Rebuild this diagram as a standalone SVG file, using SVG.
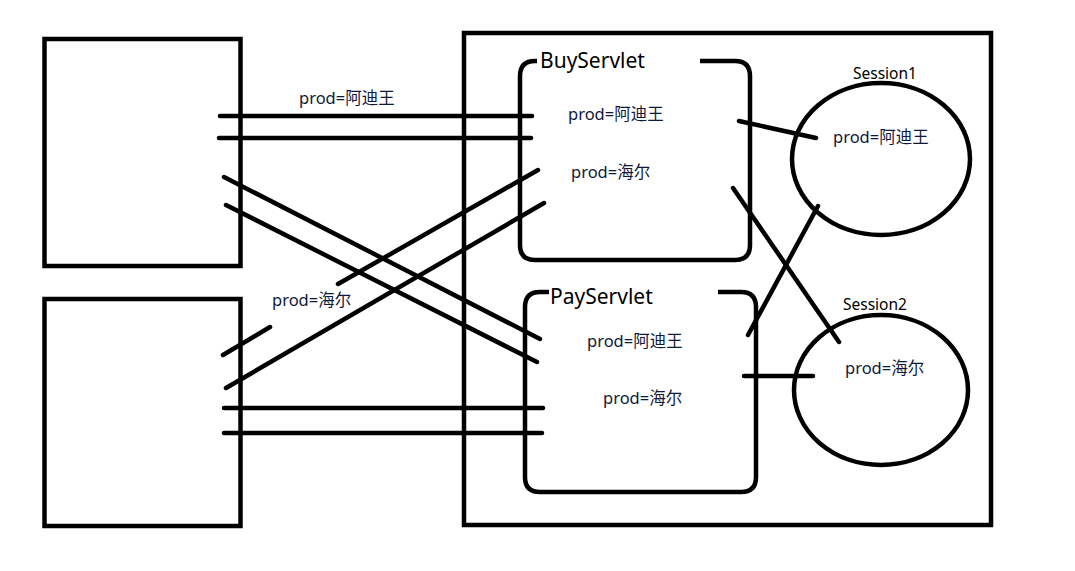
<svg xmlns="http://www.w3.org/2000/svg" width="1075" height="571" viewBox="0 0 1075 571">
<style>
.s{fill:none;stroke:#000;stroke-width:4.5;stroke-linecap:round}
.b{fill:none;stroke:#000;stroke-width:4.5}
.t{font-family:"Noto Sans","Noto Sans CJK SC",sans-serif;font-size:16.5px;fill:#0f1a3a}
.h{font-family:"Noto Sans","Noto Sans CJK SC",sans-serif;font-size:21px;fill:#000}
.n{font-family:"Noto Sans","Noto Sans CJK SC",sans-serif;font-size:15.5px;fill:#000}
</style>
<rect width="1075" height="571" fill="#fff"/>
<g id="client1"><rect class="b" x="44.5" y="39" width="196" height="227"/></g>
<g id="client2"><rect class="b" x="44.5" y="299" width="196" height="227"/></g>
<g id="server"><rect class="b" x="464" y="33" width="527" height="492"/></g>
<g id="buyservlet">
<path class="b" d="M537,61 H535 Q520,61 520,76 V245 Q520,260 535,260 H735 Q750,260 750,245 V76 Q750,61 735,61 H700"/>
<text class="h" x="540" y="68">BuyServlet</text>
<text class="t" x="568" y="120">prod=阿迪王</text>
<text class="t" x="571" y="178">prod=海尔</text>
</g>
<g id="payservlet">
<path class="b" d="M549,292 H540 Q525,292 525,307 V477 Q525,492 540,492 H741 Q756,492 756,477 V307 Q756,292 741,292 H718"/>
<text class="h" x="550" y="304">PayServlet</text>
<text class="t" x="587" y="347">prod=阿迪王</text>
<text class="t" x="603" y="404">prod=海尔</text>
</g>
<g id="session1">
<ellipse class="b" cx="881" cy="159" rx="89" ry="76"/>
<text class="n" x="853" y="79">Session1</text>
<text class="t" x="833" y="143">prod=阿迪王</text>
</g>
<g id="session2">
<ellipse class="b" cx="881" cy="390" rx="87" ry="75"/>
<text class="n" x="843" y="310">Session2</text>
<text class="t" x="845" y="374">prod=海尔</text>
</g>
<g id="labels">
<text class="t" x="299" y="104">prod=阿迪王</text>
<text class="t" x="272" y="306">prod=海尔</text>
</g>
<g id="connectors">
<line class="s" x1="220" y1="116" x2="532" y2="116"/>
<line class="s" x1="219" y1="138" x2="531" y2="138"/>
<line class="s" x1="224" y1="177" x2="540" y2="339"/>
<line class="s" x1="226" y1="205" x2="537" y2="362"/>
<line class="s" x1="338" y1="284" x2="538" y2="170"/>
<line class="s" x1="223" y1="355" x2="270" y2="327"/>
<line class="s" x1="226" y1="388" x2="544" y2="203"/>
<line class="s" x1="224" y1="408" x2="543" y2="408"/>
<line class="s" x1="224" y1="433" x2="542" y2="433"/>
<line class="s" x1="739" y1="121" x2="816" y2="138"/>
<line class="s" x1="733" y1="188" x2="839" y2="342"/>
<line class="s" x1="748" y1="335" x2="818" y2="206"/>
<line class="s" x1="744" y1="376" x2="813" y2="376"/>
</g>
</svg>
